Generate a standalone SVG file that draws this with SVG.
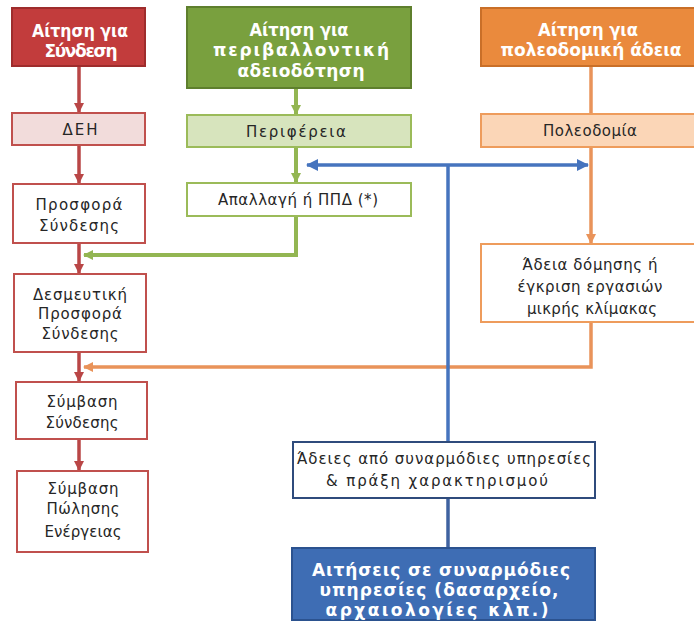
<svg xmlns="http://www.w3.org/2000/svg" width="694" height="626" viewBox="0 0 694 626">
<defs>
<marker id="aR" markerWidth="10" markerHeight="10" refX="9" refY="5" orient="auto" markerUnits="userSpaceOnUse"><path d="M0,0 L10,5 L0,10 z" fill="#B94646"/></marker>
<marker id="aG" markerWidth="10" markerHeight="10" refX="9" refY="5" orient="auto" markerUnits="userSpaceOnUse"><path d="M0,0 L10,5 L0,10 z" fill="#93B652"/></marker>
<marker id="aO" markerWidth="10" markerHeight="10" refX="9" refY="5" orient="auto" markerUnits="userSpaceOnUse"><path d="M0,0 L10,5 L0,10 z" fill="#E9935A"/></marker>
<marker id="aB" markerWidth="12" markerHeight="12" refX="11" refY="6" orient="auto-start-reverse" markerUnits="userSpaceOnUse"><path d="M0,0 L12,6 L0,12 z" fill="#4674BE"/></marker>
</defs>
<style>
.h{font-family:"DejaVu Sans","Liberation Sans",sans-serif;font-size:17px;font-weight:bold;fill:#fff;text-anchor:middle}
.t{font-family:"DejaVu Sans","Liberation Sans",sans-serif;font-size:15px;fill:#262626;text-anchor:middle}
.cr{stroke:#B94646;stroke-width:3.5;fill:none}
.cg{stroke:#93B652;stroke-width:4;fill:none}
.co{stroke:#E9935A;stroke-width:3.5;fill:none}
.cb{stroke:#4674BE;stroke-width:3.5;fill:none}
.cb2{stroke:#3F62A0;stroke-width:3.5;fill:none}
</style>
<rect width="694" height="626" fill="#fff"/>
<g id="connectors">
<path class="cr" d="M79,66 V112" marker-end="url(#aR)"/>
<path class="cr" d="M79,145 V183" marker-end="url(#aR)"/>
<path class="cr" d="M79,243 V273" marker-end="url(#aR)"/>
<path class="cr" d="M79,352 V381" marker-end="url(#aR)"/>
<path class="cr" d="M79,439 V470" marker-end="url(#aR)"/>
<path class="cg" d="M296,88 V114" marker-end="url(#aG)"/>
<path class="cg" d="M296,147 V182" marker-end="url(#aG)"/>
<path class="cg" d="M296,216 V255 H84" marker-end="url(#aG)"/>
<path class="co" d="M591,66 V113"/>
<path class="co" d="M591,147 V243" marker-end="url(#aO)"/>
<path class="co" d="M591,322 V367 H84" marker-end="url(#aO)"/>
<path class="cb" d="M307,165 H588" marker-start="url(#aB)" marker-end="url(#aB)"/>
<path class="cb" d="M448,165 V442"/>
<path class="cb2" d="M448,498 V548"/>
</g>
<g id="n-aitisi-syndesi">
<rect x="12" y="8" width="133" height="58" fill="#C23C3C" stroke="#9E2C2C" stroke-width="2"/>
<text class="h" x="80" y="37" textLength="96" lengthAdjust="spacingAndGlyphs">Αίτηση για</text>
<text class="h" x="81" y="57" textLength="73" lengthAdjust="spacing">Σύνδεση</text>
</g>
<g id="n-deh">
<rect x="12" y="113" width="133" height="32" fill="#F2DCDB" stroke="#C0504D" stroke-width="2"/>
<text class="t" x="80" y="135" textLength="35" lengthAdjust="spacing">ΔΕΗ</text>
</g>
<g id="n-prosfora">
<rect x="13" y="184" width="132" height="59" fill="#fff" stroke="#C0504D" stroke-width="2"/>
<text class="t" x="79" y="210" textLength="87" lengthAdjust="spacing">Προσφορά</text>
<text class="t" x="79" y="231" textLength="80" lengthAdjust="spacing">Σύνδεσης</text>
</g>
<g id="n-desmeutiki">
<rect x="14" y="274" width="132" height="78" fill="#fff" stroke="#C0504D" stroke-width="2"/>
<text class="t" x="80" y="300" textLength="94" lengthAdjust="spacing">Δεσμευτική</text>
<text class="t" x="80" y="319" textLength="84" lengthAdjust="spacing">Προσφορά</text>
<text class="t" x="80" y="339" textLength="77" lengthAdjust="spacing">Σύνδεσης</text>
</g>
<g id="n-symvasi-syndesis">
<rect x="16" y="382" width="131" height="57" fill="#fff" stroke="#C0504D" stroke-width="2"/>
<text class="t" x="82" y="407" textLength="71" lengthAdjust="spacing">Σύμβαση</text>
<text class="t" x="82" y="428" textLength="73" lengthAdjust="spacing">Σύνδεσης</text>
</g>
<g id="n-symvasi-polisis">
<rect x="17" y="471" width="131" height="81" fill="#fff" stroke="#C0504D" stroke-width="2"/>
<text class="t" x="83" y="494" textLength="71" lengthAdjust="spacing">Σύμβαση</text>
<text class="t" x="83" y="514" textLength="73" lengthAdjust="spacing">Πώλησης</text>
<text class="t" x="83" y="537" textLength="77" lengthAdjust="spacing">Ενέργειας</text>
</g>
<g id="n-aitisi-perivallontiki">
<rect x="187" y="7" width="224" height="81" fill="#79A03E" stroke="#5E7F2D" stroke-width="2"/>
<text class="h" x="299" y="36" textLength="99" lengthAdjust="spacingAndGlyphs">Αίτηση για</text>
<text class="h" x="301" y="56" textLength="176" lengthAdjust="spacing">περιβαλλοντική</text>
<text class="h" x="301" y="77" textLength="127" lengthAdjust="spacing">αδειοδότηση</text>
</g>
<g id="n-perifereia">
<rect x="187" y="115" width="224" height="32" fill="#D7E4BD" stroke="#9BBB59" stroke-width="2"/>
<text class="t" x="296" y="137" textLength="100" lengthAdjust="spacing">Περιφέρεια</text>
</g>
<g id="n-apallagi">
<rect x="187" y="183" width="224" height="33" fill="#fff" stroke="#9BBB59" stroke-width="2"/>
<text class="t" x="298" y="205" textLength="160" lengthAdjust="spacing">Απαλλαγή ή ΠΠΔ (*)</text>
</g>
<g id="n-aitisi-poleodomiki">
<rect x="481" y="8" width="216" height="58" fill="#EA8A3D" stroke="#C96F28" stroke-width="2"/>
<text class="h" x="588" y="36" textLength="100" lengthAdjust="spacingAndGlyphs">Αίτηση για</text>
<text class="h" x="591" y="56" textLength="181" lengthAdjust="spacing">πολεοδομική άδεια</text>
</g>
<g id="n-poleodomia">
<rect x="481" y="114" width="216" height="33" fill="#FBD6B7" stroke="#EE9C5C" stroke-width="2"/>
<text class="t" x="590" y="136" textLength="94" lengthAdjust="spacing">Πολεοδομία</text>
</g>
<g id="n-adeia-domisis">
<rect x="481" y="244" width="216" height="78" fill="#fff" stroke="#EE9C5C" stroke-width="2"/>
<text class="t" x="590" y="270" textLength="135" lengthAdjust="spacing">Άδεια δόμησης ή</text>
<text class="t" x="590" y="292" textLength="145" lengthAdjust="spacing">έγκριση εργασιών</text>
<text class="t" x="592" y="314" textLength="130" lengthAdjust="spacing">μικρής κλίμακας</text>
</g>
<g id="n-adeies-synarmodies">
<rect x="293" y="442" width="302" height="56" fill="#fff" stroke="#2F4B7C" stroke-width="2"/>
<text class="t" x="444" y="464" textLength="294" lengthAdjust="spacing">Άδειες από συναρμόδιες υπηρεσίες</text>
<text class="t" x="437" y="486" textLength="222" lengthAdjust="spacing">&amp; πράξη χαρακτηρισμού</text>
</g>
<g id="n-aitiseis-synarmodies">
<rect x="292" y="548" width="303" height="72" fill="#3E6DB4" stroke="#2B528F" stroke-width="2"/>
<text class="h" x="441" y="576" textLength="258" lengthAdjust="spacing">Αιτήσεις σε συναρμόδιες</text>
<text class="h" x="439" y="596" textLength="239" lengthAdjust="spacing">υπηρεσίες (δασαρχείο,</text>
<text class="h" x="437" y="616" textLength="223" lengthAdjust="spacing">αρχαιολογίες κλπ.)</text>
</g>
</svg>
